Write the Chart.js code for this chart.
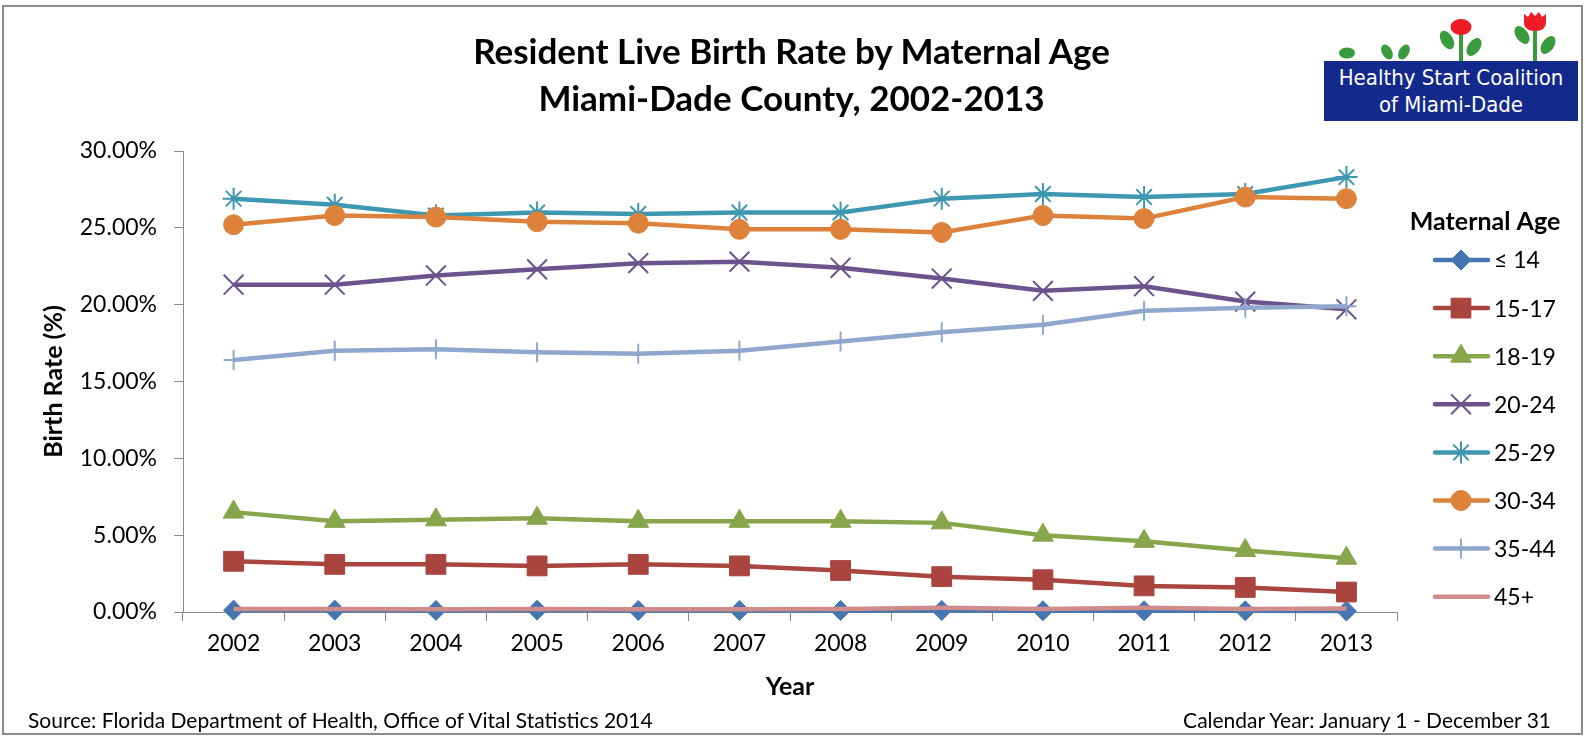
<!DOCTYPE html>
<html><head><meta charset="utf-8">
<script src="https://cdn.jsdelivr.net/npm/chart.js@4.4.1/dist/chart.umd.min.js"></script>
<style>
html,body{margin:0;padding:0;background:#fff;}
#wrap{position:relative;width:1585px;height:736px;overflow:hidden;background:#fff;}
#c{position:absolute;left:0;top:0;}
#frame{position:absolute;left:2px;top:5px;width:1581px;height:730px;border:2px solid #8a8a8a;box-sizing:border-box;pointer-events:none;}
.title{position:absolute;left:0;width:1583px;text-align:center;font:bold 35px Lato, sans-serif;color:#000;line-height:46px;}
.foot{position:absolute;font:21px Lato, sans-serif;color:#000;line-height:24px;white-space:nowrap;}
#logo{position:absolute;left:1300px;top:0;width:285px;height:130px;}
#logoBox{position:absolute;left:24px;top:61px;width:254px;height:60px;background:#13298c;}
.lt{position:absolute;left:0;width:254px;text-align:center;color:#fff;font:22px "Liberation Sans Narrow","DejaVu Sans Condensed",sans-serif;line-height:26px;white-space:nowrap;}
</style></head>
<body>
<div id="wrap">
  <canvas id="c" width="1585" height="736"></canvas>
  <div class="title" style="top:27px">Resident Live Birth Rate by Maternal Age</div>
  <div class="title" style="top:74px">Miami-Dade County, 2002-2013</div>
  <div class="foot" style="left:28px;top:708px">Source: Florida Department of Health, Office of Vital Statistics 2014</div>
  <div class="foot" style="right:34px;top:708px">Calendar Year: January 1 - December 31</div>
  <div id="logo">
    <svg width="285" height="62" style="position:absolute;left:0;top:0">
      <ellipse cx="47" cy="53" rx="8" ry="5.5" fill="#3a9a3e"/>
      <ellipse cx="87" cy="52" rx="5" ry="8" fill="#3a9a3e" transform="rotate(-30 87 52)"/>
      <ellipse cx="104" cy="52" rx="5" ry="8" fill="#3a9a3e" transform="rotate(30 104 52)"/>
      <rect x="159" y="33" width="4" height="29" fill="#3a9a3e"/>
      <ellipse cx="161" cy="27" rx="10.5" ry="8" fill="#ee1c25"/>
      <ellipse cx="147" cy="40" rx="6" ry="10" fill="#3a9a3e" transform="rotate(-30 147 40)"/>
      <ellipse cx="174" cy="47" rx="6" ry="10" fill="#3a9a3e" transform="rotate(35 174 47)"/>
      <rect x="233" y="28" width="4" height="34" fill="#3a9a3e"/>
      <path d="M224 14 L228 17 L231 12 L235 16 L239 12 L242 17 L246 14 L246 22 Q246 31 235 31 Q224 31 224 22 Z" fill="#ee1c25"/>
      <ellipse cx="222" cy="35" rx="6" ry="10" fill="#3a9a3e" transform="rotate(-35 222 35)"/>
      <ellipse cx="248" cy="45" rx="6" ry="10" fill="#3a9a3e" transform="rotate(35 248 45)"/>
    </svg>
    <div id="logoBox">
      <div class="lt" style="top:4px">Healthy Start Coalition</div>
      <div class="lt" style="top:31px">of Miami-Dade</div>
    </div>
  </div>
  <div id="frame"></div>
</div>
<script>
// ---- data ----
const years = ['2002','2003','2004','2005','2006','2007','2008','2009','2010','2011','2012','2013'];
const seriesNames = ['≤ 14','15-17','18-19','20-24','25-29','30-34','35-44','45+'];
const age14 = [0.12,0.12,0.10,0.12,0.10,0.10,0.10,0.10,0.08,0.08,0.08,0.06];
const age15_17 = [3.3,3.1,3.1,3.0,3.1,3.0,2.7,2.3,2.1,1.7,1.6,1.3];
const age18_19 = [6.5,5.9,6.0,6.1,5.9,5.9,5.9,5.8,5.0,4.6,4.0,3.5];
const age20_24 = [21.3,21.3,21.9,22.3,22.7,22.8,22.4,21.7,20.9,21.2,20.2,19.7];
const age25_29 = [26.9,26.5,25.8,26.0,25.9,26.0,26.0,26.9,27.2,27.0,27.2,28.3];
const age30_34 = [25.2,25.8,25.7,25.4,25.3,24.9,24.9,24.7,25.8,25.6,27.0,26.9];
const age35_44 = [16.4,17.0,17.1,16.9,16.8,17.0,17.6,18.2,18.7,19.6,19.8,19.9];
const age45 = [0.20,0.20,0.18,0.20,0.18,0.18,0.20,0.27,0.20,0.27,0.20,0.22];
const yTicksMin = 0, yTicksMax = 30, yStep = 5;
const legendTitle = 'Maternal Age';

// ---- styles ----
const colors = ['#4676b1','#a9443f','#87a64b','#6c538d','#3e97b0','#de823b','#8fa7cd','#d08b8b'];
const styles = [
  {ps:'rectRot', r:10, bw:1},
  {ps:'rect', r:14, bw:1},
  {ps:'triangle', r:12, bw:1},
  {ps:'crossRot', r:14, bw:2},
  {ps:'star', r:11, bw:2},
  {ps:'circle', r:10, bw:1},
  {ps:'cross', r:10, bw:2},
  {ps:'circle', r:0, bw:0}
];
const allData = [age14, age15_17, age18_19, age20_24, age25_29, age30_34, age35_44, age45];

const datasets = allData.map((d,i)=>({
  label: seriesNames[i],
  data: d,
  borderColor: colors[i],
  backgroundColor: colors[i],
  pointBackgroundColor: colors[i],
  pointBorderColor: colors[i],
  pointStyle: styles[i].ps,
  pointRadius: styles[i].r,
  pointBorderWidth: styles[i].bw,
  borderWidth: 4.5,
  tension: 0,
  clip: false,
  order: allData.length - i
}));

const FONT = 'Lato, sans-serif';

const sideLegend = {
  id: 'sideLegend',
  afterDraw(chart){
    const ctx = chart.ctx;
    ctx.save();
    ctx.fillStyle = '#000';
    ctx.font = 'bold 25px ' + FONT;
    ctx.textAlign = 'center';
    ctx.textBaseline = 'middle';
    ctx.fillText(legendTitle, 1485, 222);
    chart.data.datasets.forEach((d,i)=>{
      const y = 260 + i*48.1;
      ctx.strokeStyle = d.borderColor;
      ctx.lineWidth = 4.5;
      ctx.lineCap = 'round';
      ctx.beginPath(); ctx.moveTo(1435, y); ctx.lineTo(1488, y); ctx.stroke();
      ctx.lineCap = 'butt';
      if (d.pointRadius > 0) {
        ctx.fillStyle = d.pointBackgroundColor;
        ctx.strokeStyle = d.pointBorderColor;
        ctx.lineWidth = d.pointBorderWidth;
        Chart.helpers.drawPoint(ctx, {pointStyle:d.pointStyle, radius:d.pointRadius, rotation:0, borderWidth:d.pointBorderWidth}, 1461, y);
      }
      ctx.fillStyle = '#000';
      ctx.font = '23px ' + FONT;
      ctx.textAlign = 'left';
      ctx.fillText(d.label, 1494, y + 1);
    });
    ctx.restore();
  }
};

new Chart(document.getElementById('c'), {
  type: 'line',
  data: { labels: years, datasets },
  options: {
    responsive: false,
    animation: false,
    layout: { padding: { top: 151, right: 188, left: 0, bottom: 0 } },
    plugins: { legend: { display: false }, tooltip: { enabled: false }, title: { display: false } },
    scales: {
      x: {
        type: 'category',
        offset: true,
        grid: { display: true, offset: true, drawOnChartArea: false, drawTicks: true, tickLength: 9, color: '#8a8a8a', lineWidth: 1 },
        border: { display: true, color: '#8a8a8a', width: 1 },
        ticks: { font: { family: FONT, size: 23 }, color: '#000', padding: 9, maxRotation: 0 },
        title: { display: true, text: 'Year', color: '#000', font: { family: FONT, size: 25, weight: 'bold' }, padding: { top: 0, bottom: 34 } },
        afterFit(s){ s.height = 124; }
      },
      y: {
        min: yTicksMin, max: yTicksMax,
        grid: { display: true, drawOnChartArea: false, drawTicks: true, tickLength: 9, color: '#8a8a8a', lineWidth: 1 },
        border: { display: true, color: '#8a8a8a', width: 1 },
        ticks: { stepSize: yStep, callback: v => v.toFixed(2) + '%', font: { family: FONT, size: 23 }, color: '#000', padding: 17 },
        title: { display: true, text: 'Birth Rate (%)', color: '#000', font: { family: FONT, size: 25, weight: 'bold' }, padding: { top: 39, bottom: 0 } },
        afterFit(s){ s.width = 183; }
      }
    }
  },
  plugins: [sideLegend]
});
</script>
</body></html>
